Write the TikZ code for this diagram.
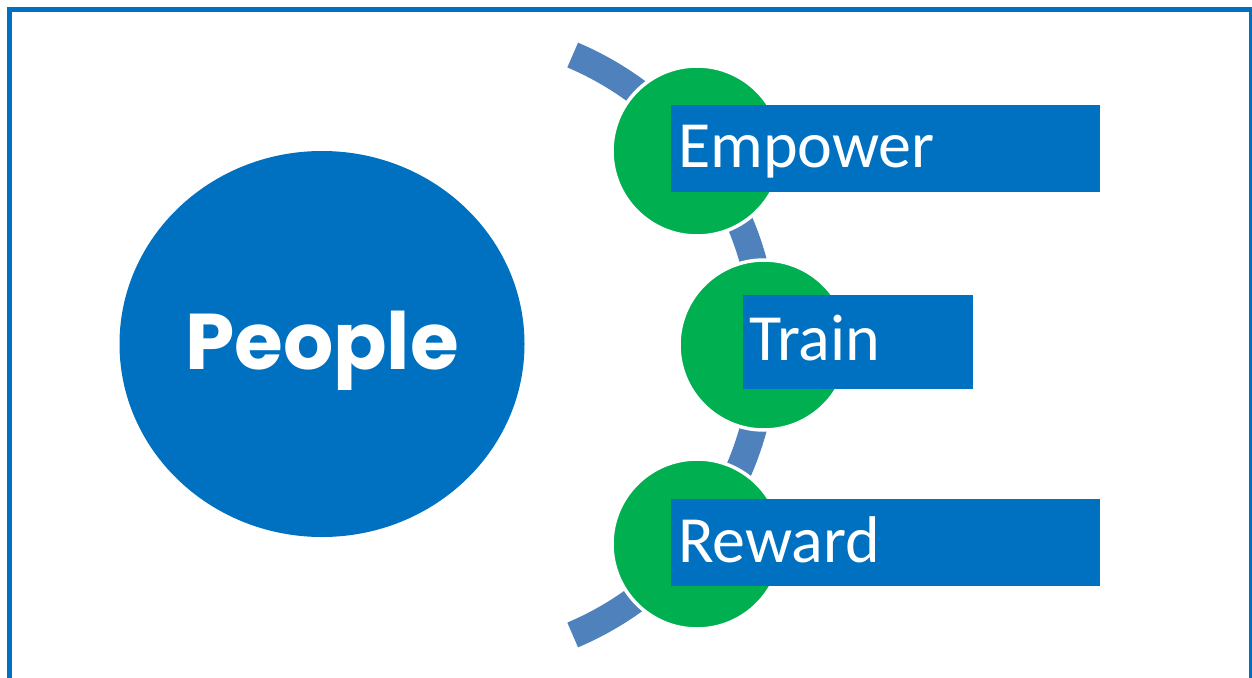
\documentclass[tikz,border=0pt]{standalone}
\usepackage{fontspec}
\usetikzlibrary{shapes.geometric}
\setmainfont{Carlito}
\newfontfamily\peoplefont{Poppins}
\definecolor{mainblue}{RGB}{0,112,192}
\definecolor{dotgreen}{RGB}{0,176,80}
\definecolor{arcblue}{RGB}{79,129,189}
\begin{document}
\begin{tikzpicture}[x=1pt,y=1pt,
  frameline/.style={draw=mainblue,line width=5pt},
  arcline/.style={draw=arcblue,line width=27pt},
  dot/.style={circle,fill=dotgreen,draw=white,line width=3.5pt,minimum size=170pt,inner sep=0pt},
  labelbox/.style={fill=mainblue,inner sep=0pt,anchor=north west},
  labeltext/.style={text=white,inner sep=0pt,anchor=base west,font=\fontsize{66}{72}\selectfont}]
\useasboundingbox (0,0) rectangle (1252,-677);
\draw[frameline] (9.5,-10) rectangle (1251.5,-700);
% central ellipse
\node[ellipse,fill=mainblue,minimum width=405pt,minimum height=386pt,inner sep=0pt] (people) at (322,-344) {};
\node[text=white,inner sep=0pt,anchor=base,font=\peoplefont\bfseries\fontsize{79}{90}\selectfont] (peopletext) at (322,-369) {People};
% arc
\coordinate (arcc) at (449.6,-345);
\draw[arcline] ([shift={(-67:315)}]arcc) arc[start angle=-67,end angle=67,radius=315];
% circles
\node[dot] (c1) at (697,-151) {};
\node[dot] (c2) at (764,-345) {};
\node[dot] (c3) at (697,-544) {};
% boxes
\node[labelbox,minimum width=429pt,minimum height=87pt] (b1) at (671,-105) {};
\node[labelbox,minimum width=230pt,minimum height=94pt] (b2) at (743,-295) {};
\node[labelbox,minimum width=429pt,minimum height=87pt] (b3) at (671,-499) {};
\node[labeltext] (t1) at (678,-167) {Empower};
\node[labeltext] (t2) at (749,-360) {Train};
\node[labeltext] (t3) at (678,-562) {Reward};
\end{tikzpicture}
\end{document}
